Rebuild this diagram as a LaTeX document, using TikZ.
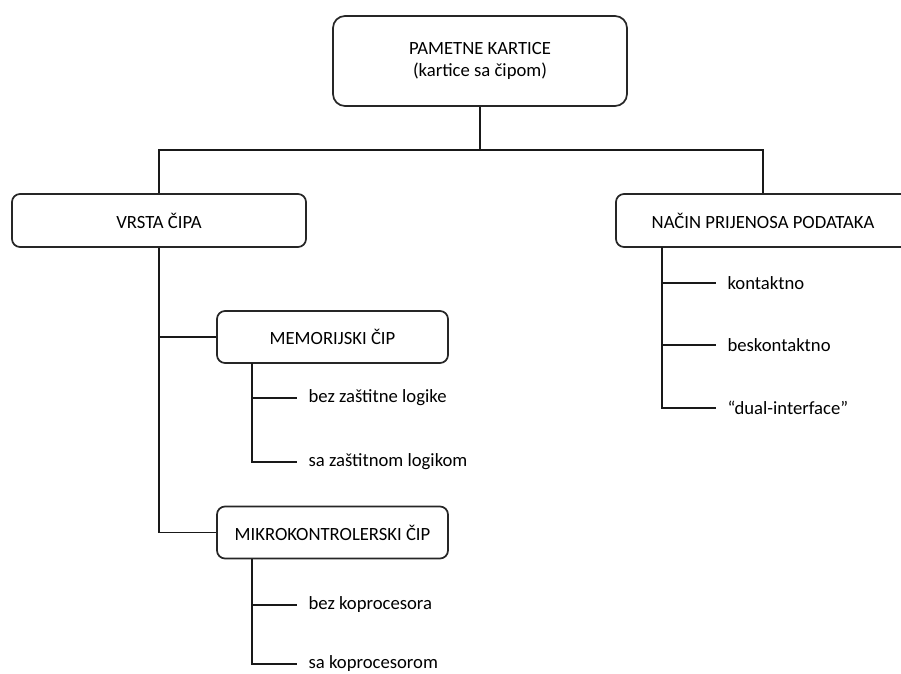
\documentclass[tikz,border=0pt]{standalone}
\usepackage{fontspec}
\setmainfont{Carlito}
\begin{document}
\begin{tikzpicture}[x=0.75pt, y=-0.75pt, font=\fontsize{14pt}{16.5pt}\selectfont,
    box/.style={draw=black!85, line width=1.3pt, rounded corners=6pt, align=center,
        minimum width=220.5pt, minimum height=39.75pt},
    subbox/.style={box, minimum width=173.25pt, minimum height=39pt},
    leaf/.style={anchor=west, inner xsep=8.5pt},
    link/.style={line width=1pt, black!90}]
            \useasboundingbox (0,0) rectangle (901,674);
            \begin{scope}
                % top level
                \node[name=cards, box, rounded corners=9pt, minimum height=67.5pt] at (480,61) (cards) {PAMETNE KARTICE\\(kartice sa čipom)};
                \coordinate (split) at (480,150);
                \node[name=chip, box] at (159,220.5) (chip) {VRSTA ČIPA};
                \node[name=transfer, box] at (763,220.5) (transfer) {NAČIN PRIJENOSA PODATAKA};
                \draw[link] (cards) -- (split);
                \draw[link] (chip) |- (split) -| (transfer);
                % chip types
                \node[name=mem, subbox] at (332.5,337) (mem) {MEMORIJSKI ČIP};
                \node[name=mcu, subbox] at (332.5,532.5) (mcu) {MIKROKONTROLERSKI ČIP};
                \draw[link] (chip) |- (mem);
                \draw[link] (chip) |- (mcu);
                \node[name=m1, leaf] at (297,398) (m1) {bez zaštitne logike};
                \node[name=m2, leaf] at (297,462) (m2) {sa zaštitnom logikom};
                \node[name=k1, leaf] at (297,605) (k1) {bez koprocesora};
                \node[name=k2, leaf] at (297,664) (k2) {sa koprocesorom};
                \coordinate (memroot) at (252,363);
                \coordinate (mcuroot) at (252,559);
                \draw[link] (memroot) |- (m1);
                \draw[link] (memroot) |- (m2);
                \draw[link] (mcuroot) |- (k1);
                \draw[link] (mcuroot) |- (k2);
                % transfer modes
                \node[name=t1, leaf] at (716,283) (t1) {kontaktno};
                \node[name=t2, leaf] at (716,345) (t2) {beskontaktno};
                \node[name=t3, leaf] at (716,408) (t3) {“dual-interface”};
                \coordinate (troot) at (662,247);
                \draw[link] (troot) |- (t1);
                \draw[link] (troot) |- (t2);
                \draw[link] (troot) |- (t3);
            \end{scope}
        \end{tikzpicture}
\end{document}
